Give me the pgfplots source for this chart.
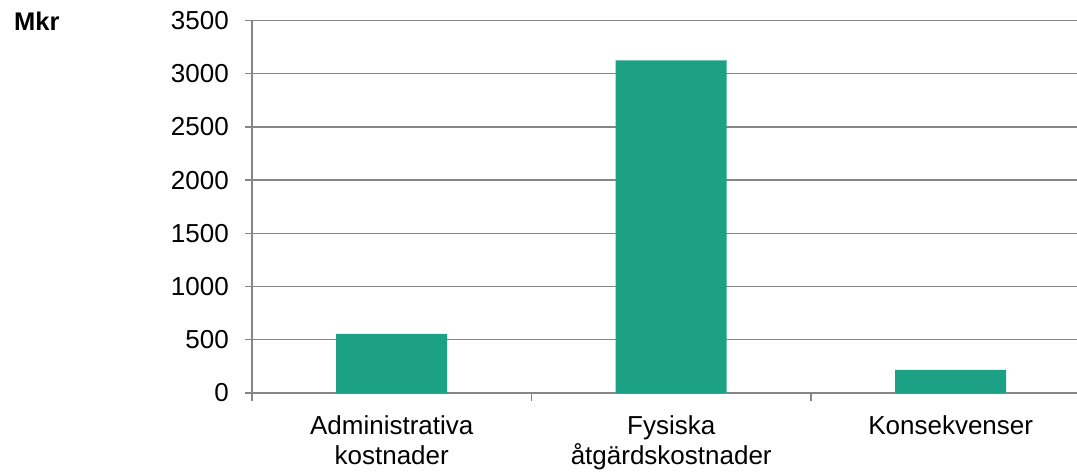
\documentclass[border=0pt]{standalone}
\usepackage{pgfplots}
\pgfplotsset{compat=1.18}
\usepackage{fontspec}
\setmainfont{Liberation Sans}
\definecolor{barc}{RGB}{29,161,132}
\definecolor{gridc}{RGB}{134,134,134}
\begin{document}
\begin{tikzpicture}[x=1pt,y=1pt]
\path[use as bounding box] (0,0) rectangle (1077,-472);
\node[anchor=north west,inner sep=0pt,font=\fontsize{25.5}{30}\selectfont\bfseries] at (14,-12) {Mkr};
\begin{axis}[
  at={(252pt,-393pt)}, anchor=south west,
  scale only axis, width=825pt, height=372.5pt,
  xmin=-0.5, xmax=2.452, ymin=0, ymax=3500,
  ytick={0,500,...,3500},
  xtick={0,1,2},
  xticklabels={{Administrativa\\kostnader},{Fysiska\\åtgärdskostnader},{Konsekvenser}},
  minor xtick={-0.5,0.5,1.5},
  axis lines*=left,
  axis line style={gridc, line width=1.3pt},
  ymajorgrids,
  major grid style={gridc, line width=1.3pt},
  tick align=outside,
  major tick length=7pt, minor tick length=8pt,
  major x tick style={draw=none},
  minor x tick style={gridc, line width=1.3pt},
  major y tick style={gridc, line width=1.3pt},
  yticklabel style={font=\fontsize{26}{30}\selectfont, inner sep=0pt, xshift=-16pt},
  xticklabel style={font=\fontsize{26}{30}\selectfont, align=center, inner sep=0pt, yshift=-15pt},
  /pgf/number format/assume math mode=true,
  scaled y ticks=false,
  yticklabel={\pgfmathprintnumber[fixed,1000 sep={}]{\tick}},
  ybar, bar width=111pt,
  clip=false,
]
\addplot[fill=barc, draw=none] coordinates {(0,555) (1,3125) (2,218)};
\end{axis}
\end{tikzpicture}
\end{document}
